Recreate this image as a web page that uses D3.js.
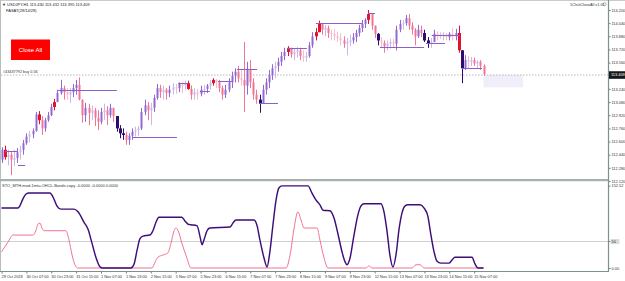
<!DOCTYPE html>
<html><head><meta charset="utf-8">
<script src="https://cdn.jsdelivr.net/npm/d3@7"></script>
<style>
html,body{margin:0;padding:0;background:#fff;overflow:hidden;}
svg{display:block;font-family:"Liberation Sans",Arial,sans-serif;}
</style></head><body>
<svg id="c" width="625" height="281"></svg>
<script>
// ---------- data (USDJPY H1, one bar per 2 hours) ----------
const firstOpen = 112.38;
const highs = [
112.53,112.55,112.50,112.47,112.50,112.52,112.55,112.62,112.70,112.73,
112.76,112.96,112.97,112.91,112.89,112.96,113.06,113.12,113.23,113.35,
113.28,113.25,113.25,113.30,113.35,113.38,113.11,113.07,113.06,113.04,
113.01,112.98,113.01,113.06,113.03,113.06,113.01,112.91,112.80,112.76,
112.72,112.70,112.76,112.78,112.79,113.01,113.11,113.08,113.07,113.17,
113.30,113.29,113.28,113.25,113.28,113.31,113.30,113.32,113.32,113.34,
113.34,113.28,113.25,113.24,113.28,113.29,113.30,113.35,113.37,113.36,
113.35,113.28,113.29,113.37,113.45,113.49,113.52,113.47,113.81,113.57,
113.59,113.37,113.23,113.17,113.29,113.37,113.47,113.54,113.57,113.62,
113.69,113.74,113.76,113.74,113.73,113.75,113.74,113.71,113.69,113.81,
113.93,113.98,114.07,114.03,114.02,114.01,113.96,113.97,113.94,113.92,
113.88,113.86,113.90,113.92,113.96,114.02,114.08,114.10,114.20,114.15,
114.01,113.92,113.87,113.83,113.83,113.85,113.85,114.01,114.08,114.08,
114.14,114.15,114.05,113.98,114.02,114.01,113.96,113.87,113.86,113.96,
113.94,113.93,113.93,113.92,113.93,113.98,113.97,114.01,113.71,113.65,
113.64,113.63,113.62,113.59,113.59,113.54];
const lows = [
112.34,112.38,112.31,112.19,112.30,112.34,112.38,112.44,112.56,112.59,
112.64,112.72,112.81,112.68,112.72,112.84,112.91,112.98,113.08,113.17,
113.11,113.11,113.07,113.14,113.17,113.10,112.83,112.84,112.80,112.86,
112.79,112.74,112.81,112.86,112.80,112.89,112.84,112.72,112.64,112.62,
112.56,112.56,112.62,112.66,112.67,112.74,112.92,112.86,112.80,112.96,
113.11,113.13,113.11,113.11,113.14,113.17,113.18,113.20,113.19,113.23,
113.23,113.11,113.11,113.11,113.15,113.17,113.19,113.23,113.28,113.25,
113.20,113.11,113.13,113.20,113.25,113.32,113.32,113.28,112.96,113.17,
113.25,113.11,113.06,112.95,113.06,113.17,113.25,113.35,113.37,113.45,
113.52,113.59,113.64,113.62,113.59,113.62,113.59,113.57,113.57,113.62,
113.74,113.83,113.93,113.90,113.88,113.86,113.83,113.83,113.81,113.77,
113.74,113.65,113.76,113.79,113.81,113.88,113.93,113.98,114.03,113.96,
113.86,113.77,113.74,113.68,113.71,113.73,113.75,113.71,113.93,113.96,
114.01,113.96,113.90,113.77,113.86,113.87,113.81,113.74,113.74,113.81,
113.83,113.85,113.83,113.83,113.83,113.83,113.83,113.68,113.31,113.47,
113.49,113.52,113.52,113.49,113.47,113.40];
const closes = [
112.50,112.41,112.44,112.38,112.40,112.47,112.50,112.58,112.66,112.69,
112.73,112.93,112.86,112.76,112.86,112.92,113.02,113.08,113.19,113.25,
113.20,113.17,113.20,113.25,113.29,113.11,112.92,113.01,112.95,112.98,
112.89,112.84,112.96,112.98,112.92,113.01,112.91,112.76,112.70,112.68,
112.62,112.67,112.72,112.74,112.76,112.96,113.04,112.98,113.01,113.13,
113.25,113.20,113.23,113.19,113.23,113.26,113.25,113.30,113.28,113.31,
113.24,113.17,113.20,113.18,113.23,113.24,113.28,113.31,113.35,113.32,
113.25,113.17,113.23,113.32,113.40,113.45,113.37,113.35,113.28,113.47,
113.32,113.17,113.11,113.06,113.23,113.32,113.41,113.49,113.52,113.57,
113.64,113.69,113.74,113.66,113.69,113.71,113.64,113.62,113.64,113.77,
113.88,113.93,114.03,113.96,113.98,113.92,113.91,113.88,113.86,113.83,
113.79,113.81,113.83,113.87,113.92,113.98,114.03,114.08,114.15,114.01,
113.91,113.83,113.80,113.76,113.79,113.81,113.79,113.96,114.03,114.04,
114.10,114.01,113.96,113.88,113.96,113.92,113.83,113.79,113.81,113.91,
113.90,113.88,113.90,113.87,113.91,113.88,113.92,113.71,113.49,113.59,
113.57,113.59,113.55,113.57,113.52,113.42];
const strongRed = [1,12,17,60,68,92,101,102,118,147];
const strongNavy = [37,38,39,83,121,136,137,148];

const levelFrom  = [1.1, 5.3, 18.2, 42.0, 56.8, 63.8, 69.6, 75.7, 83.1, 91.8, 101.1, 117.9, 121.7, 136.5, 138.4, 148.1];
const levelTo    = [5.0, 7.6, 37.1, 56.4, 60.0, 67.0, 74.1, 82.2, 88.9, 98.2, 115.9, 120.1, 135.9, 142.6, 147.4, 154.5];
const levelPrice = [112.48,112.31,113.23,112.66,113.31,113.21,113.34,113.48,113.07,113.74,114.04,114.16,113.75,113.80,113.90,113.49];

const currentPrice = 113.409;
const priceTicks = [114.2,114.04,113.88,113.72,113.56,113.40,113.24,113.08,112.92,112.76,112.60,112.44,112.28,112.12];

const timeLabels = ["29 Oct 2018","30 Oct 07:00","30 Oct 23:00","31 Oct 15:00","1 Nov 07:00","1 Nov 23:00","2 Nov 15:00","5 Nov 07:00","5 Nov 23:00","6 Nov 15:00","7 Nov 07:00","7 Nov 23:00","8 Nov 15:00","9 Nov 07:00","9 Nov 23:00","12 Nov 15:00","13 Nov 07:00","13 Nov 23:00","14 Nov 15:00","15 Nov 07:00"];

const purpleIdx=[0,2.7,5.3,5.9,6.9,7.9,8.8,15.6,16.6,17.8,19.1,23.3,24.6,26.5,27.8,29.1,30.4,31.7,32.6,41.6,42.6,43.6,44.5,45.5,47.7,48.7,49.7,50.6,58.0,59.0,60.0,60.9,62.9,63.8,64.5,65.1,66.1,67.0,73.5,74.4,75.4,81.2,82.2,83.1,84.4,85.4,86.3,87.3,88.3,89.2,90.2,98.6,99.8,101.1,102.4,103.4,105.6,106.9,108.2,109.5,110.5,111.1,112.1,113.3,114.6,115.6,116.6,122.0,123.0,124.0,124.9,125.9,126.9,127.8,128.8,129.8,130.7,134.6,135.9,137.1,138.1,139.1,140.0,141.3,143.9,144.9,145.8,151.3,152.3,153.2,155];
const purpleVal=[111,111,111,115,128,137,139,139,131,115,109,109,104,85,72,46,19,2,0,0,7,33,54,59,61,69,85,94,94,87,81,80,78,59,43,52,69,74,76,83,89,89,78,52,19,2,30,80,126,148,152,152,139,126,117,107,106,93,63,30,11,6,19,59,98,115,119,119,104,67,24,2,26,70,102,115,117,117,111,96,61,30,13,9,9,15,20,20,7,0,0];
const pinkIdx=[0,2.1,3.7,10.1,11.1,11.7,12.4,13.0,13.7,20.7,21.7,22.7,23.6,24.6,48.4,49.4,50.3,51.9,53.5,54.5,55.5,56.1,56.8,58.0,59.6,60.9,91.5,92.8,94.1,95.3,96.3,97.3,101.5,102.4,103.7,105.0,117.2,118.2,119.1,132.0,133.3,134.6,135.9,155];
const pinkVal=[30,48,61,61,70,81,83,74,69,69,52,24,6,0,0,11,20,24,28,46,69,74,69,46,19,0,0,24,74,104,89,74,74,52,19,0,0,4,0,0,6,6,0,0];
const subLevel = 50;
const subMax = 152.52;

// ---------- drawing ----------
const W=625,H=281, AX=608.5;
const svg=d3.select('#c');
const x=d3.scaleLinear().domain([0,155]).range([1.5,483.5]);
const y=d3.scaleLinear().domain([112.12,114.2]).range([181,10]);
const ys=d3.scaleLinear().domain([0,subMax]).range([268,185.6]);

svg.append('rect').attr('width',W).attr('height',H).attr('fill','#fff');
svg.append('defs').append('clipPath').attr('id','mainClip').append('rect').attr('x',1).attr('y',1).attr('width',AX-1).attr('height',178);
svg.select('defs').append('clipPath').attr('id','subClip').append('rect').attr('x',1).attr('y',182).attr('width',AX-1).attr('height',89);

// borders
svg.append('line').attr('x1',0).attr('x2',W).attr('y1',0.5).attr('y2',0.5).attr('stroke','#c8cccc');
svg.append('line').attr('x1',0.5).attr('x2',0.5).attr('y1',0).attr('y2',272).attr('stroke','#b8bebe');

// future shaded area
svg.append('rect').attr('x',x(155)).attr('width',x(167.7)-x(155))
  .attr('y',y(113.41)).attr('height',y(113.26)-y(113.41)).attr('fill','#f1eefa');

// order line (dotted)
svg.append('line').attr('x1',1).attr('x2',AX).attr('y1',y(currentPrice)).attr('y2',y(currentPrice))
  .attr('stroke','#a8a8a8').attr('stroke-width',0.8).attr('stroke-dasharray','1.5,1.5');

const main=svg.append('g').attr('clip-path','url(#mainClip)');
const bars=highs.map((h,i)=>({i,h,l:lows[i],c:closes[i],o:i===0?firstOpen:closes[i-1]}));
const redSet=new Set(strongRed), navySet=new Set(strongNavy);
function col(d){
  if(redSet.has(d.i)) return '#e2132f';
  if(navySet.has(d.i)) return '#2c0c6c';
  const up=d.c>=d.o, weak=Math.abs(d.c-d.o)<0.035;
  if(up) return weak?'#c9b8ea':'#9468d3';
  return weak?'#f6bccb':'#f07593';
}
main.selectAll('line.w').data(bars).enter().append('line').attr('class','w')
  .attr('x1',d=>Math.round(x(d.i))+0.5).attr('x2',d=>Math.round(x(d.i))+0.5)
  .attr('y1',d=>y(d.h)).attr('y2',d=>y(d.l)).attr('stroke',col).attr('stroke-width',1);
main.selectAll('rect.b').data(bars).enter().append('rect').attr('class','b')
  .attr('x',d=>Math.round(x(d.i))-((redSet.has(d.i)||navySet.has(d.i))?1:0.5))
  .attr('width',d=>(redSet.has(d.i)||navySet.has(d.i))?3:2)
  .attr('y',d=>y(Math.max(d.o,d.c)))
  .attr('height',d=>Math.max(1,Math.abs(y(d.o)-y(d.c))))
  .attr('fill',col);

// level lines
main.selectAll('line.lv').data(levelPrice).enter().append('line').attr('class','lv')
  .attr('x1',(p,k)=>x(levelFrom[k])).attr('x2',(p,k)=>x(levelTo[k]))
  .attr('y1',p=>Math.round(y(p))+0.5).attr('y2',p=>Math.round(y(p))+0.5)
  .attr('stroke','#8b5ecb').attr('stroke-width',1);

// separator between panels
svg.append('rect').attr('x',0).attr('y',179).attr('width',AX).attr('height',2.2).attr('fill','#a7afaf');

// sub panel
svg.append('line').attr('x1',1).attr('x2',AX).attr('y1',Math.round(ys(subLevel))+0.5).attr('y2',Math.round(ys(subLevel))+0.5)
  .attr('stroke','#cfcfcf').attr('stroke-width',1);
const sub=svg.append('g').attr('clip-path','url(#subClip)');
const lineGen=d3.line().curve(d3.curveMonotoneX);
sub.append('path').attr('d',lineGen(pinkIdx.map((v,k)=>[x(v),ys(pinkVal[k])])))
  .attr('fill','none').attr('stroke','#f07391').attr('stroke-width',1);
sub.append('path').attr('d',lineGen(purpleIdx.map((v,k)=>[x(v),ys(purpleVal[k])])))
  .attr('fill','none').attr('stroke','#3d0d7a').attr('stroke-width',1.45);

// right axis (main)
const tickFont=3.9;
const rAx=svg.append('g').attr('transform',`translate(${AX},0)`)
  .call(d3.axisRight(y).tickValues(priceTicks).tickFormat(d3.format('.3f')).tickSize(2).tickPadding(1));
rAx.select('.domain').remove();
rAx.selectAll('line').attr('stroke','#6f7f7f');
rAx.selectAll('text').attr('font-size',tickFont).attr('fill','#333').attr('font-family','Liberation Sans');
svg.append('line').attr('x1',AX).attr('x2',AX).attr('y1',0).attr('y2',272).attr('stroke','#7e9090').attr('stroke-width',1.2);

// right axis (sub)
const sAx=svg.append('g').attr('transform',`translate(${AX},0)`)
  .call(d3.axisRight(ys).tickValues([0,subLevel,subMax]).tickFormat(d=>d===subMax?'152.52':(d===0?'0.00':String(d))).tickSize(2).tickPadding(1));
sAx.select('.domain').remove();
sAx.selectAll('line').attr('stroke','#6f7f7f');
sAx.selectAll('text').attr('font-size',tickFont).attr('fill','#333').attr('font-family','Liberation Sans');
sAx.selectAll('.tick').filter(d=>d===subLevel).insert('rect','text').attr('x',2).attr('y',-2.5).attr('width',9).attr('height',5).attr('fill','#d9dcdc');

// current price box
const cy=y(currentPrice);
svg.append('rect').attr('x',AX+0.5).attr('y',cy-3.8).attr('width',W-AX).attr('height',7.6).attr('fill','#141a1a');
svg.append('text').attr('x',AX+2.5).attr('y',cy+1.4).attr('font-size',tickFont).attr('fill','#fff').text(currentPrice.toFixed(3));

// bottom time axis
svg.append('line').attr('x1',0).attr('x2',AX).attr('y1',271.5).attr('y2',271.5).attr('stroke','#7e9090').attr('stroke-width',1.2);
const bAx=svg.append('g').attr('transform','translate(0,271.5)')
  .call(d3.axisBottom(x).tickValues(timeLabels.map((t,k)=>k*8)).tickFormat((d,k)=>timeLabels[k]).tickSize(2).tickPadding(1.5));
bAx.select('.domain').remove();
bAx.selectAll('line').attr('stroke','#6f7f7f');
bAx.selectAll('text').attr('font-size',tickFont).attr('fill','#333').attr('text-anchor','start').attr('dx','-0.5').attr('font-family','Liberation Sans');

// header texts
svg.append('text').attr('x',2).attr('y',5.5).attr('font-size',4).attr('fill','#222').text('\u25BC USDJPY,H1  113.430 113.432 113.395 113.409');
svg.append('text').attr('x',6).attr('y',11.5).attr('font-size',4).attr('fill','#222').text('FASAT(28/14/28)');
svg.append('text').attr('x',570).attr('y',5.5).attr('font-size',3.8).attr('fill','#333').text('1ClickCloseAll v1.01');
svg.append('circle').attr('cx',604.5).attr('cy',4.2).attr('r',1.6).attr('fill','none').attr('stroke','#666').attr('stroke-width',0.5);
svg.append('text').attr('x',3).attr('y',cy-1.8).attr('font-size',3.8).attr('fill','#333').text('#43437792 buy 0.56');
svg.append('text').attr('x',2).attr('y',186.5).attr('font-size',4).attr('fill','#333').text('STO_MTH-mod-1mtu-OHCL-Bands-copy -0.0000 -0.0000 0.0000');

// Close All button
svg.append('rect').attr('x',11).attr('y',39.5).attr('width',39).attr('height',20.5).attr('fill','#ff0000');
svg.append('text').attr('x',30.5).attr('y',52).attr('text-anchor','middle').attr('font-size',6).attr('fill','#fff').text('Close All');
</script>
</body></html>
